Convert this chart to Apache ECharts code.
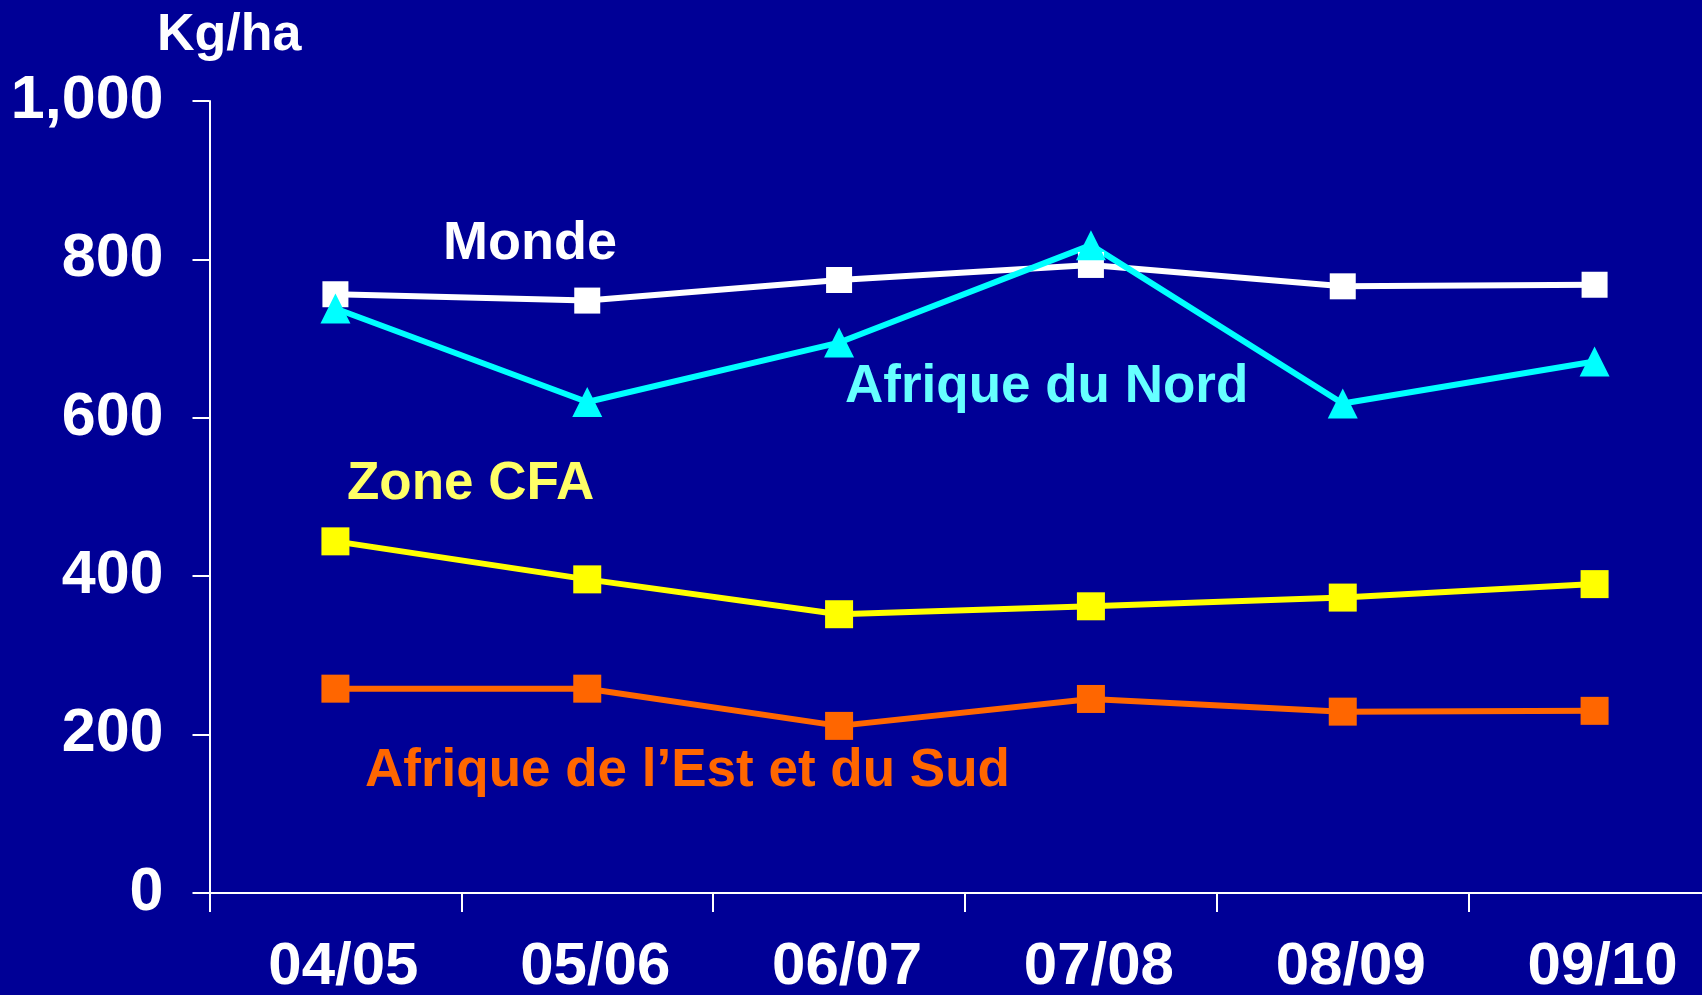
<!DOCTYPE html>
<html>
<head>
<meta charset="utf-8">
<script src="https://cdn.jsdelivr.net/npm/echarts@6/dist/echarts.min.js"></script>
<style>
html,body{margin:0;padding:0;background:#000096;}
#chart{width:1702px;height:995px;}
</style>
</head>
<body>
<div id="chart"></div>
<script>
const categories = ['04/05', '05/06', '06/07', '07/08', '08/09', '09/10'];
const monde = [756, 748, 774, 793, 766, 768];
const afriqueNord = [738, 620, 695, 818, 618, 671];
const zoneCFA = [444, 396, 352, 362, 373, 390];
const afriqueEstSud = [258, 258, 211, 245, 229, 230];
const yTicks = [0, 200, 400, 600, 800, 1000];
const unitLabel = 'Kg/ha';
const seriesNames = ['Monde', 'Afrique du Nord', 'Zone CFA', 'Afrique de l\u2019Est et du Sud'];

const FONT = '"Liberation Sans", Arial, sans-serif';
const chart = echarts.init(document.getElementById('chart'));

function txt(text, x, y, color, size) {
  return {
    type: 'text', left: x, top: y - size / 2,
    style: { text: text, fill: color, font: 'bold ' + size + 'px ' + FONT, textVerticalAlign: 'top' }
  };
}

chart.setOption({
  backgroundColor: '#000096',
  animation: false,
  grid: { left: 209.5, top: 101, width: 1511, bottom: 102, containLabel: false, outerBoundsMode: 'none' },
  xAxis: {
    type: 'category',
    data: categories,
    boundaryGap: true,
    axisLine: { lineStyle: { color: '#ffffff', width: 2 } },
    axisTick: { show: true, length: 19, lineStyle: { color: '#ffffff', width: 2 }, alignWithLabel: false },
    axisLabel: { color: '#ffffff', fontSize: 60, fontWeight: 'bold', fontFamily: FONT, margin: 44, padding: [0, 0, 0, 16], interval: 0 },
    splitLine: { show: false }
  },
  yAxis: {
    type: 'value',
    min: 0, max: 1000, interval: 200,
    axisLine: { show: true, lineStyle: { color: '#ffffff', width: 2 } },
    axisTick: { show: true, length: 17, lineStyle: { color: '#ffffff', width: 2 } },
    axisLabel: {
      color: '#ffffff', fontSize: 61, fontWeight: 'bold', fontFamily: FONT, margin: 46,
      formatter: v => yTicks.includes(v) ? v.toLocaleString('en-US') : ''
    },
    splitLine: { show: false }
  },
  series: [
    { name: seriesNames[0], type: 'line', data: monde, symbol: 'rect', symbolSize: 26,
      lineStyle: { color: '#ffffff', width: 6 }, itemStyle: { color: '#ffffff' } },
    { name: seriesNames[1], type: 'line', data: afriqueNord, symbol: 'triangle', symbolSize: 30,
      lineStyle: { color: '#00ffff', width: 6 }, itemStyle: { color: '#00ffff' } },
    { name: seriesNames[2], type: 'line', data: zoneCFA, symbol: 'rect', symbolSize: 28,
      lineStyle: { color: '#ffff00', width: 6 }, itemStyle: { color: '#ffff00' } },
    { name: seriesNames[3], type: 'line', data: afriqueEstSud, symbol: 'rect', symbolSize: 28,
      lineStyle: { color: '#ff6600', width: 6 }, itemStyle: { color: '#ff6600' } }
  ],
  graphic: [
    txt(unitLabel, 157, 36, '#ffffff', 52),
    txt(seriesNames[0], 443, 244, '#ffffff', 54),
    txt(seriesNames[1], 845, 387, '#66ffff', 53),
    txt(seriesNames[2], 347, 484, '#ffff66', 53),
    txt(seriesNames[3], 365, 771, '#ff6600', 53)
  ]
});
</script>
</body>
</html>
